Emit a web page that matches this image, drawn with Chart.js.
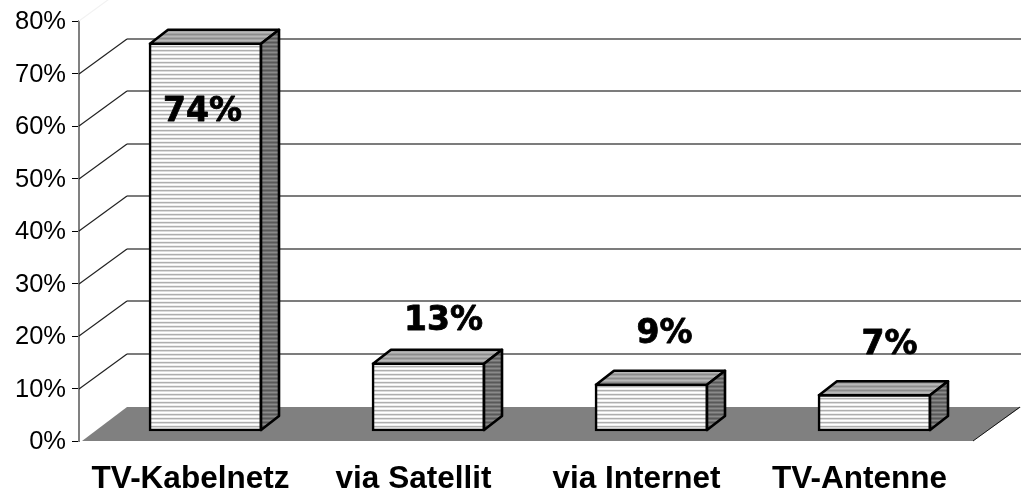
<!DOCTYPE html>
<html>
<head>
<meta charset="utf-8">
<style>
html, body { margin: 0; padding: 0; background: #fff; }
#wrap { width: 1021px; height: 490px; }
</style>
<script src="https://cdn.jsdelivr.net/npm/chart.js@4"></script>
</head>
<body>
<div id="wrap"><canvas id="chart" width="1021" height="490"></canvas></div>
<script>
const categories = ['TV-Kabelnetz', 'via Satellit', 'via Internet', 'TV-Antenne'];
const values = [74, 13, 9, 7];
const valueLabels = ['74%', '13%', '9%', '7%'];
const yTicks = [0, 10, 20, 30, 40, 50, 60, 70, 80];

// depth of the fake 3d box
const wallDx = 48, wallDy = 35;
const barDx = 18, barDy = 14;
// label nudges, the original has them placed by hand
const labelDx = [-3, 15, 13, 15];
const labelDy = [69, -42, -50, -50];

function stripes(rows) {
    const c = document.createElement('canvas');
    c.width = 4;
    c.height = rows.length;
    const g = c.getContext('2d');
    rows.forEach((color, i) => {
        g.fillStyle = color;
        g.fillRect(0, i, 4, 1);
    });
    return document.getElementById('chart').getContext('2d').createPattern(c, 'repeat');
}

function poly(ctx, pts, fill, stroke, width) {
    ctx.beginPath();
    pts.forEach((p, i) => i ? ctx.lineTo(p[0], p[1]) : ctx.moveTo(p[0], p[1]));
    if (fill) {
        ctx.closePath();
        ctx.fillStyle = fill;
        ctx.fill();
    }
    if (stroke) {
        ctx.strokeStyle = stroke;
        ctx.lineWidth = width;
        ctx.stroke();
    }
}

const wallPlugin = {
    id: 'wall',
    beforeDatasetsDraw(chart) {
        const ctx = chart.ctx, y = chart.scales.y, area = chart.chartArea;
        const zero = y.getPixelForValue(0);
        ctx.save();
        // floor
        poly(ctx, [
            [area.left + 3, zero],
            [area.left + wallDx, zero - wallDy + 1],
            [1021, zero - wallDy + 1],
            [area.left + 894, zero]
        ], '#808080');
        poly(ctx, [[area.left + 894, zero], [1020, zero - wallDy + 1]], null, '#111', 1);
        // wall grid
        yTicks.forEach(v => {
            if (v === 0) return;
            const py = Math.round(y.getPixelForValue(v));
            const color = v === 80 ? '#f2f2f2' : '#222';
            poly(ctx, [[area.left, py], [area.left + wallDx, py - wallDy]], null, color, 1.2);
            poly(ctx, [[area.left + wallDx, py - wallDy], [1021, py - wallDy]], null, v === 80 ? color : '#505050', 1.6);
        });
        ctx.restore();
    }
};

const boxPlugin = {
    id: 'box',
    afterDatasetsDraw(chart) {
        const ctx = chart.ctx;
        const meta = chart.getDatasetMeta(0);
        ctx.save();
        ctx.lineJoin = 'round';
        meta.data.forEach((bar, i) => {
            const half = bar.width / 2 - 1;
            const l = bar.x - half, r = bar.x + half, t = bar.y + 1, b = bar.base - 1;
            poly(ctx, [[l, t], [l + barDx, t - barDy], [r + barDx, t - barDy], [r, t]],
                stripes(['#b8b8b8', '#a4a4a4', '#8c8c8c', '#a4a4a4']), '#000', 2.6);
            poly(ctx, [[r, t], [r + barDx, t - barDy], [r + barDx, b - barDy], [r, b]],
                stripes(['#8a8a8a', '#707070', '#585858', '#707070']), '#000', 2.6);
            ctx.font = 'bold 33px "DejaVu Sans"';
            ctx.fillStyle = '#000';
            ctx.strokeStyle = '#000';
            ctx.lineWidth = 0.8;
            ctx.textAlign = 'center';
            ctx.textBaseline = 'middle';
            ctx.fillText(valueLabels[i], bar.x + labelDx[i], t + labelDy[i]);
            ctx.strokeText(valueLabels[i], bar.x + labelDx[i], t + labelDy[i]);
        });
        ctx.restore();
    }
};

new Chart(document.getElementById('chart').getContext('2d'), {
    type: 'bar',
    data: {
        datasets: [{
            data: values.map((v, i) => ({ x: i, y: v })),
            xAxisID: 'x',
            yAxisID: 'yBar',
            barThickness: 113,
            backgroundColor: () => stripes(['#ffffff', '#f0f0f0', '#aeaeae', '#dcdcdc']),
            borderColor: '#000',
            borderWidth: 2.6,
            borderSkipped: false
        }]
    },
    options: {
        responsive: false,
        animation: false,
        layout: { padding: { top: 21, right: 0, bottom: 0, left: 0 } },
        plugins: { legend: { display: false }, tooltip: { enabled: false } },
        scales: {
            x: {
                type: 'linear',
                offset: false,
                // 0 sits at the first bar, 223px from one bar to the next
                min: -0.5673,
                max: 3.6570,
                afterFit(scale) { scale.height = 49; },
                afterBuildTicks(scale) {
                    scale.ticks = categories.map((c, i) => ({ value: i }));
                },
                border: { display: false },
                grid: { display: false, offset: false },
                ticks: {
                    autoSkip: false,
                    maxRotation: 0,
                    labelOffset: -15,
                    padding: 11,
                    color: '#000',
                    font: { family: '"Liberation Sans"', size: 31.5, weight: 'bold' },
                    callback: v => categories[v]
                }
            },
            y: {
                position: 'left',
                min: 0,
                max: 80,
                afterFit(scale) { scale.width = 79; },
                afterBuildTicks(scale) {
                    scale.ticks = yTicks.map(v => ({ value: v }));
                },
                border: { color: '#808080', width: 2 },
                grid: { drawOnChartArea: false, tickLength: 7, color: '#000', tickWidth: 1 },
                ticks: {
                    padding: 6,
                    labelOffset: 1,
                    color: '#000',
                    font: { family: '"Liberation Sans"', size: 25.5 },
                    callback: v => v + '%'
                }
            },
            // bars stand 10px above the axis zero, on the floor
            yBar: {
                display: false,
                min: -1.905,
                max: 78.095
            }
        }
    },
    plugins: [wallPlugin, boxPlugin]
});
</script>
</body>
</html>
